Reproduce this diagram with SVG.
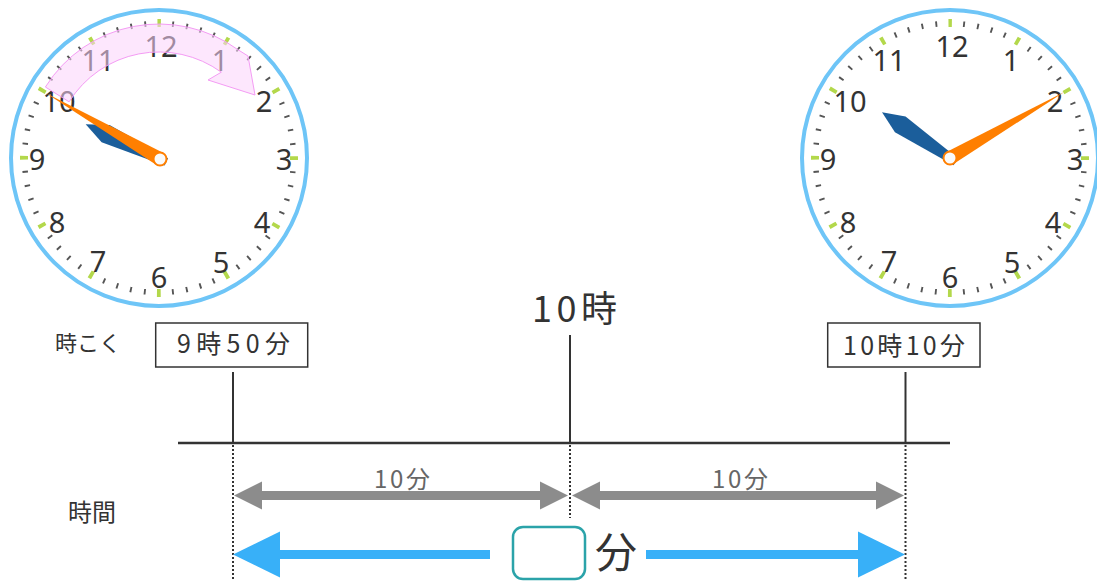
<svg xmlns="http://www.w3.org/2000/svg" width="1097" height="581" viewBox="0 0 1097 581">
<style>
.ring{fill:#fff;stroke:#6ec5f7;stroke-width:4}
.minor{fill:none;stroke:#555;stroke-width:5.5;stroke-dasharray:1.9 12.1848;stroke-dashoffset:0.95}
.major{fill:none;stroke:#b3d84b;stroke-width:8;stroke-dasharray:3.8 66.886;stroke-dashoffset:1.9}
.num{font-family:"Noto Sans","DejaVu Sans",sans-serif;font-size:29px;fill:#333;text-anchor:middle}
.hour{fill:#1b5e9b}
.minute{fill:#ff7f00}
.pivot{fill:#fafafa;stroke:#ff7f00;stroke-width:2}
.jp{font-family:"Noto Sans CJK JP","Noto Sans",sans-serif;fill:#333}
.gr{font-family:"Noto Sans CJK JP","Noto Sans",sans-serif;fill:#666}
.box{fill:#fff;stroke:#333;stroke-width:1.5}
.vline{stroke:#333;stroke-width:2}
.dot{stroke:#333;stroke-width:2;stroke-dasharray:2 2}
.gray{fill:#8c8c8c}
.blue{fill:#38b0f8}
</style>
<defs>
<g id="face">
<circle class="ring" r="148"/>
<circle class="minor" r="134.5" transform="rotate(-90)"/>
<circle class="major" r="135" transform="rotate(-90)"/>
<text class="num" x="2" y="-101">12</text>
<text class="num" x="61" y="-87">1</text>
<text class="num" x="105" y="-46">2</text>
<text class="num" x="125" y="12">3</text>
<text class="num" x="103" y="75">4</text>
<text class="num" x="62" y="115">5</text>
<text class="num" x="0" y="130">6</text>
<text class="num" x="-61" y="114">7</text>
<text class="num" x="-102" y="75">8</text>
<text class="num" x="-122" y="12">9</text>
<text class="num" x="-100" y="-46">10</text>
<text class="num" x="-61" y="-87">11</text>
</g>
<polygon id="hourHand" class="hour" points="0,-82 9.5,-60 4,7 -4,7 -9.5,-60"/>
<polygon id="minHand" class="minute" points="0,-132 7,0 0,6 -7,0"/>
</defs>

<g id="clock-left">
<use href="#face" transform="translate(159,158)"/>
<path d="M45.4,87 A134,134 0 0 1 237.8,49.6 L248,56 L255,95 L208,80 L221.3,72.2 A106,106 0 0 0 69.1,101.8 Z" fill="#fbd3fb" fill-opacity="0.55" stroke="#f49cf4" stroke-width="1"/>
<g transform="translate(160,159)">
<use href="#hourHand" transform="rotate(295)"/>
<use href="#minHand" transform="rotate(300)"/>
<circle class="pivot" r="6.5"/>
</g>
</g>

<g id="clock-right">
<use href="#face" transform="translate(950,158)"/>
<g transform="translate(950,158)">
<use href="#hourHand" transform="rotate(304)"/>
<use href="#minHand" transform="rotate(60)"/>
<circle class="pivot" r="6.5"/>
</g>
</g>

<g id="label-jikoku"><text class="jp" x="55" y="351" font-size="22">時こく</text></g>
<g id="label-jikan"><text class="jp" x="68" y="521" font-size="24">時間</text></g>

<g id="box-950">
<rect class="box" x="155.7" y="323" width="152" height="44"/>
<text class="jp" x="177" y="353" font-size="25" textLength="113" lengthAdjust="spacing">9時50分</text>
</g>
<g id="box-1010">
<rect class="box" x="827.7" y="323" width="152.3" height="44"/>
<text class="jp" x="843" y="355" font-size="25" textLength="122" lengthAdjust="spacing">10時10分</text>
</g>
<g id="label-10ji"><text class="jp" x="532" y="322" font-size="36" textLength="85" lengthAdjust="spacing">10時</text></g>

<g id="label-10fun-left"><text class="gr" x="374" y="488" font-size="24" textLength="56" lengthAdjust="spacing">10分</text></g>
<g id="label-10fun-right"><text class="gr" x="712" y="488" font-size="24" textLength="56" lengthAdjust="spacing">10分</text></g>

<g id="answer-box">
<rect x="513" y="527" width="72" height="52" rx="10" fill="#fff" stroke="#2ba3a9" stroke-width="2.5"/>
<text class="jp" x="595" y="568" font-size="42">分</text>
</g>

<g id="connectors">
<line x1="178" y1="443" x2="950" y2="443" stroke="#333" stroke-width="2.5"/>
<line class="vline" x1="233" y1="372" x2="233" y2="443"/>
<line class="vline" x1="570" y1="335" x2="570" y2="443"/>
<line class="vline" x1="905.5" y1="372" x2="905.5" y2="443"/>
<line class="dot" x1="233" y1="445" x2="233" y2="581"/>
<line class="dot" x1="570" y1="445" x2="570" y2="518"/>
<line class="dot" x1="905.5" y1="445" x2="905.5" y2="581"/>
<g class="gray">
<rect x="260" y="491" width="282" height="9"/>
<polygon points="262,481.5 234,495.5 262,509.5"/>
<polygon points="540,481.5 568,495.5 540,509.5"/>
<rect x="598" y="491" width="280" height="9"/>
<polygon points="600,481.5 572,495.5 600,509.5"/>
<polygon points="876,481.5 904,495.5 876,509.5"/>
</g>
<g class="blue">
<rect x="278" y="550" width="212" height="9"/>
<polygon points="280,531.5 233,554.5 280,577.5"/>
<rect x="646" y="550" width="214" height="9"/>
<polygon points="858,531.5 905,554.5 858,577.5"/>
</g>
</g>
</svg>
